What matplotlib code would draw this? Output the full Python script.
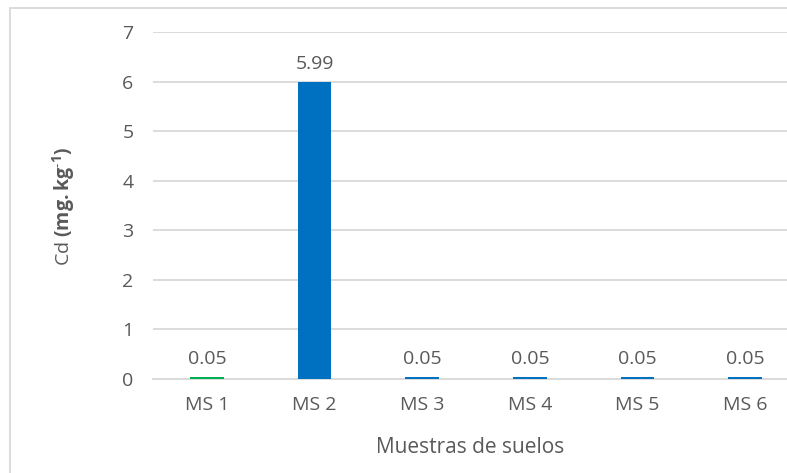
import matplotlib
matplotlib.use("Agg")
import matplotlib.pyplot as plt
from matplotlib.patches import Rectangle

# data
samples = ["MS 1", "MS 2", "MS 3", "MS 4", "MS 5", "MS 6"]
cd_values = [0.05, 5.99, 0.05, 0.05, 0.05, 0.05]
bar_colors = ["#00B050", "#0070C0", "#0070C0", "#0070C0", "#0070C0", "#0070C0"]

txt = "#595959"
grid = "#D9D9D9"

plt.rcParams["font.family"] = ["Open Sans", "DejaVu Sans"]
plt.rcParams["mathtext.fontset"] = "custom"
plt.rcParams["mathtext.rm"] = "Open Sans"
plt.rcParams["mathtext.bf"] = "Open Sans:bold"

fig = plt.figure(figsize=(7.87, 4.73), dpi=100)
ax = fig.add_axes([153 / 787, 94 / 473, 646 / 787, 347 / 473])

x = range(len(samples))
bars = ax.bar(x, cd_values, width=0.31, color=bar_colors, zorder=3)
for xi, v in zip(x, cd_values):
    ax.text(xi, v + 0.18, f"{v:.2f}", ha="center", va="bottom",
            fontsize=14, color=txt)

ax.set_xlim(-0.5, 5.5)
ax.set_ylim(0, 7)
ax.set_yticks(range(0, 8))
ax.set_xticks(list(x))
ax.set_xticklabels(samples)
ax.tick_params(axis="both", length=0, labelsize=14, colors=txt)
ax.tick_params(axis="x", pad=12)
ax.tick_params(axis="y", pad=14)
ax.yaxis.grid(True, color=grid, linewidth=1.3, zorder=0)
for s in ["top", "right", "left"]:
    ax.spines[s].set_visible(False)
ax.spines["bottom"].set_color(grid)
ax.spines["bottom"].set_linewidth(1.3)

fig.text(64 / 787, 1 - 206 / 473,
         r"Cd $\mathbf{(mg{.}kg^{\mathbf{\text{-}1}})}$",
         rotation=90, ha="center", va="center", fontsize=14, color=txt)
fig.text(470 / 787, 1 - 447 / 473, "Muestras de suelos", ha="center",
         va="center", fontsize=15, color=txt)

# chart-area border (cropped at right and bottom in the reference)
fig.patches.append(Rectangle((10 / 787, -0.1), 1.2, 1 - 8 / 473 + 0.1,
                             transform=fig.transFigure, fill=False,
                             edgecolor=grid, linewidth=1.3))

fig.savefig("out.png", dpi=100)
